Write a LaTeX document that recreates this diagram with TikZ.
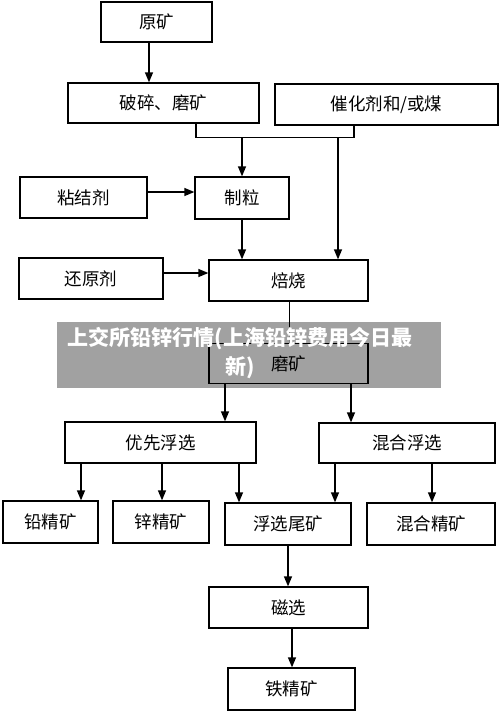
\documentclass[tikz,border=0pt]{standalone}
\usepackage{fontspec}
\newfontfamily\cjk{Noto Sans CJK SC}
\usetikzlibrary{arrows.meta}
\tikzset{
  box/.style={draw=black, line width=1.3pt, inner sep=0pt, font=\cjk\fontsize{17.5}{20}\selectfont, anchor=center},
  arr/.style={draw=black, line width=1.3pt, -{Triangle[width=8pt,length=10pt]}},
  plainline/.style={draw=black, line width=1.4pt},
  banner/.style={font=\cjk\bfseries\fontsize{21}{29}\selectfont, text=white, align=center}
}
\newcommand{\bx}[6]{\node[box, minimum width=#4pt, minimum height=#5pt] (#1) at (#2,#3) {#6};}
\begin{document}
\begin{tikzpicture}[x=1pt,y=-1pt]
\useasboundingbox (0,0) rectangle (500,712);
\fill[white] (0,0) rectangle (500,712);
\bx{yk}{156.5}{22}{111}{40}{原矿}
\bx{ps}{163.5}{103}{191}{40}{破碎、磨矿}
\bx{ch}{386.5}{104.5}{223}{41}{催化剂和/或煤}
\bx{nj}{83.5}{197.5}{127}{41}{粘结剂}
\bx{zl}{242}{198}{94}{42}{制粒}
\bx{hy}{91}{278.5}{144}{41}{还原剂}
\bx{bs}{288.5}{280.5}{159}{41}{焙烧}
\bx{mk}{288.5}{363.5}{159}{40}{磨矿}
\bx{yx}{160.5}{442.5}{191}{41}{优先浮选}
\bx{hh}{407}{443}{176}{40}{混合浮选}
\bx{qj}{50.5}{522}{95}{42}{铅精矿}
\bx{xj}{161}{522}{96}{42}{锌精矿}
\bx{fw}{288}{524}{126}{42}{浮选尾矿}
\bx{hj}{431}{524}{128}{42}{混合精矿}
\bx{cx}{288.5}{607.5}{159}{41}{磁选}
\bx{tj}{291.5}{689}{127}{42}{铁精矿}
% connectors
\draw[arr] ([xshift=-7.5pt]yk.south) -- ([xshift=-7.5pt]yk.south |- ps.north);
\coordinate (mL) at ([xshift=32.5pt, yshift=-14pt]ps.south);
\coordinate (mR) at ([xshift=-32.5pt]ch.south |- mL);
\draw[plainline] ([xshift=32.5pt]ps.south) -- (mL) -- (mR) -- ([xshift=-32.5pt]ch.south);
\coordinate (m1) at (zl.north |- mL);
\coordinate (m2) at ([xshift=49.5pt]bs.north |- mL);
\draw[arr] (m1) -- (zl.north);
\draw[arr] (m2) -- (m2 |- bs.north);
\draw[arr] ([yshift=5.5pt]nj.east) -- ([yshift=5.5pt]nj.east -| zl.west);
\draw[arr] (zl.south) -- (zl.south |- bs.north);
\draw[arr] ([yshift=5.5pt]hy.east) -- ([yshift=5.5pt]hy.east -| bs.west);
\draw[plainline] ([xshift=1pt]bs.south) -- ([xshift=1pt]mk.north);
\draw[arr] ([xshift=-63.5pt]mk.south) -- ([xshift=-63.5pt]mk.south |- yx.north);
\draw[arr] ([xshift=62.5pt]mk.south) -- ([xshift=62.5pt]mk.south |- hh.north);
\draw[arr] (qj.north |- yx.south) ++(30.5pt,0) coordinate (q1) -- (q1 |- qj.north);
\draw[arr] (xj.north |- yx.south) ++(1pt,0) coordinate (q2) -- (q2 |- xj.north);
\draw[arr] (fw.north |- yx.south) ++(-49pt,0) coordinate (q3) -- (q3 |- fw.north);
\draw[arr] (fw.north |- hh.south) ++(47pt,0) coordinate (q4) -- (q4 |- fw.north);
\draw[arr] (hj.north |- hh.south) ++(1pt,0) coordinate (q5) -- (q5 |- hj.north);
\draw[arr] (fw.south) -- (fw.south |- cx.north);
\draw[arr] ([xshift=3.5pt]cx.south) -- ([xshift=3.5pt]cx.south |- tj.north);
% watermark banner
\fill[black, opacity=0.37] (57,322) rectangle (441,388);
\node[banner] (wm) at (240,353.5) {上交所铅锌行情(上海铅锌费用今日最\\新)};
\end{tikzpicture}
\end{document}
